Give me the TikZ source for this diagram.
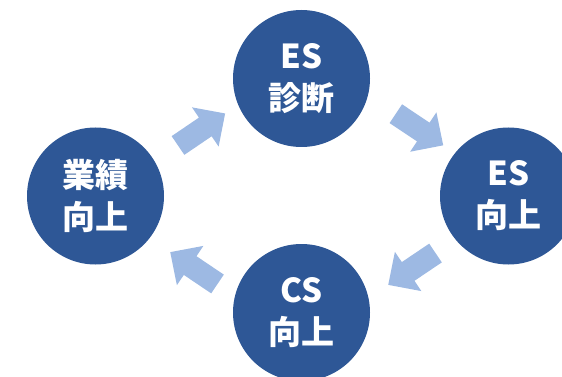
\documentclass[tikz,border=0pt]{standalone}
\usepackage{fontspec}
\newfontfamily\jp{Noto Sans CJK JP}
\definecolor{circblue}{HTML}{2E5796}
\definecolor{arrblue}{HTML}{9DB9E3}
\tikzset{
  x=1pt, y=-1pt,
  stage/.style={circle, fill=circblue, minimum size=137pt, inner sep=0pt,
    text=white, align=center, font=\jp\bfseries\fontsize{33}{42}\selectfont},
  blockarrow/.style={fill=arrblue, draw=none}
}
\newcommand{\blockarr}[2]{%
  \begin{scope}[shift={#1}, rotate=#2]
    \fill[blockarrow] (0,-11.3) -- (33,-11.3) -- (33,-23.7) -- (57,0)
      -- (33,23.7) -- (33,11.3) -- (0,11.3) -- cycle;
  \end{scope}}
\begin{document}
\begin{tikzpicture}
\useasboundingbox (0,0) rectangle (562,377);
\clip (0,0) rectangle (562,377);
\node[stage] (diag) at (301.5,78.5) {ES\\診断};
\node[stage] (esup) at (508.5,196) {ES\\向上};
\node[stage] (csup) at (301.5,312.5) {CS\\向上};
\node[stage] (perf) at (95.5,196) {業績\\向上};
\coordinate (a1) at (178,145.5);
\coordinate (a2) at (395.8,113.7);
\coordinate (a3) at (435.5,253);
\coordinate (a4) at (217.5,284);
\blockarr{(a1)}{34.2}
\blockarr{(a2)}{-33.7}
\blockarr{(a3)}{214}
\blockarr{(a4)}{146}
\end{tikzpicture}
\end{document}
